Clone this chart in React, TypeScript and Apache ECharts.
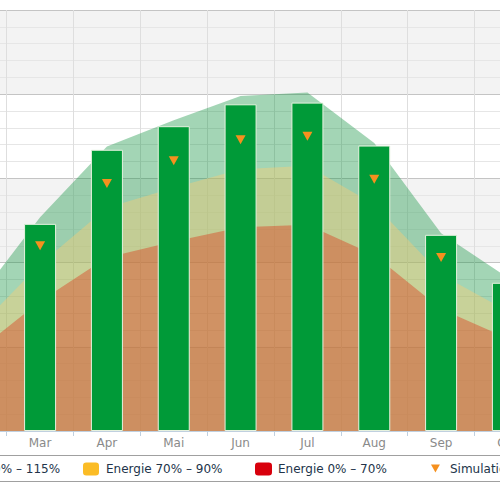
import React, { useEffect, useRef } from "react";
import * as echarts from "echarts";

const months = ["Jan", "Feb", "Mar", "Apr", "Mai", "Jun", "Jul", "Aug", "Sep", "Okt", "Nov", "Dez"];
const ertrag = [70, 140, 246, 334, 362, 388, 390, 339, 233, 176, 95, 55];
const simulation = [75, 130, 220, 294, 321, 346, 350, 299, 206, 158, 85, 60];
const energie90to115 = [86, 150, 254, 338, 369, 398, 402, 342, 235, 182, 98, 69];
const energie70to90 = [68, 117, 198, 265, 289, 311, 315, 269, 186, 142, 77, 54];
const energie0to70 = [52, 91, 154, 206, 225, 242, 245, 209, 145, 110, 60, 42];
const seriesNames = ["Energie 90% – 115%", "Energie 70% – 90%", "Energie 0% – 70%", "Simulation", "Ertrag"];
const yMin = 0;
const yMax = 500;
const yInterval = 100;

const OFFSET = 200;
const INNER_W = 900;

export default function App() {
  const ref = useRef<HTMLDivElement>(null);
  useEffect(() => {
    const chart = echarts.init(ref.current!, null, { renderer: "svg" });
    const legendText = {
      fontFamily: "DejaVu Sans",
      fontSize: 12,
      color: "#22344a",
    };
    const legends = [
      { name: seriesNames[0], left: 113, icon: "roundRect", w: 16, h: 13, color: "#2fa84f", pad: 2 },
      { name: seriesNames[1], left: 283, icon: "roundRect", w: 16, h: 13, color: "#fbbc26", pad: 2 },
      { name: seriesNames[2], left: 455, icon: "roundRect", w: 17, h: 13, color: "#d8000c", pad: 1 },
      { name: seriesNames[3], left: 631, icon: "path://M0,0 L10,0 L5,9 Z", w: 9, h: 8, color: "#f5901e", pad: 5 },
    ].map((l) => ({
      data: [l.name],
      left: l.left,
      top: 462.5,
      padding: 0,
      icon: l.icon,
      itemWidth: l.w,
      itemHeight: l.h,
      itemStyle: { color: l.color, borderWidth: 0, opacity: 1 },
      textStyle: { ...legendText, padding: [0, 0, 0, l.pad] },
      selectedMode: false,
    }));

    chart.setOption({
      animation: false,
      backgroundColor: "#ffffff",
      grid: { left: 73, top: 10, width: 802, height: 421 },
      legend: legends,
      graphic: [
        {
          type: "rect",
          shape: { x: 10, y: 455.5, width: 880, height: 26, r: 5 },
          style: { fill: "none", stroke: "#a0a0a0", lineWidth: 1 },
          silent: true,
        },
      ],
      xAxis: {
        type: "category",
        data: months,
        boundaryGap: true,
        axisLine: { show: true, lineStyle: { color: "#c0d0e0", width: 1 } },
        axisTick: { show: true, length: 5, alignWithLabel: false, lineStyle: { color: "#c0d0e0" } },
        axisLabel: { color: "#8a8a8a", fontSize: 12, fontFamily: "DejaVu Sans", margin: 6 },
        splitLine: { show: true, lineStyle: { color: "#dedede", width: 1 } },
      },
      yAxis: {
        type: "value",
        min: yMin,
        max: yMax,
        interval: yInterval,
        axisLabel: { show: false },
        axisLine: { show: false },
        axisTick: { show: false },
        splitLine: { show: true, lineStyle: { color: "#c4c4c4", width: 1 } },
        minorTick: { show: false, splitNumber: 5 },
        minorSplitLine: { show: true, lineStyle: { color: "#e6e6e6", width: 1 } },
        splitArea: { show: true, areaStyle: { color: ["#f3f3f3", "#ffffff"] } },
      },
      series: [
        {
          name: seriesNames[0],
          type: "line",
          data: energie90to115,
          symbol: "none",
          showSymbol: false,
          itemStyle: { color: "#2fa84f" },
          lineStyle: { width: 0, opacity: 0 },
          areaStyle: { color: "rgba(25,150,70,0.4)", opacity: 1 },
          z: 1,
        },
        {
          name: seriesNames[1],
          type: "line",
          data: energie70to90,
          symbol: "none",
          showSymbol: false,
          itemStyle: { color: "#fbbc26" },
          lineStyle: { width: 0, opacity: 0 },
          areaStyle: { color: "rgba(255,205,113,0.4)", opacity: 1 },
          z: 1,
        },
        {
          name: seriesNames[2],
          type: "line",
          data: energie0to70,
          symbol: "none",
          showSymbol: false,
          itemStyle: { color: "#d8000c" },
          lineStyle: { width: 0, opacity: 0 },
          areaStyle: { color: "rgba(220,50,19,0.4)", opacity: 1 },
          z: 1,
        },
        {
          name: seriesNames[4],
          type: "bar",
          data: ertrag,
          barWidth: 32,
          itemStyle: { color: "#009a38", borderColor: "#e6f2df", borderWidth: 1 },
          z: 3,
        },
        {
          name: seriesNames[3],
          type: "scatter",
          data: simulation,
          symbol: "triangle",
          symbolRotate: 180,
          symbolSize: [10, 9],
          itemStyle: { color: "#f5901e", opacity: 1 },
          z: 5,
        },
      ],
    });
    return () => chart.dispose();
  }, []);
  return (
    <div
      style={{
        position: "fixed",
        left: 0,
        top: 0,
        width: 500,
        height: 500,
        overflow: "hidden",
        background: "#ffffff",
      }}
    >
      <div ref={ref} style={{ position: "absolute", left: -OFFSET, top: 0, width: INNER_W, height: 500 }} />
    </div>
  );
}
